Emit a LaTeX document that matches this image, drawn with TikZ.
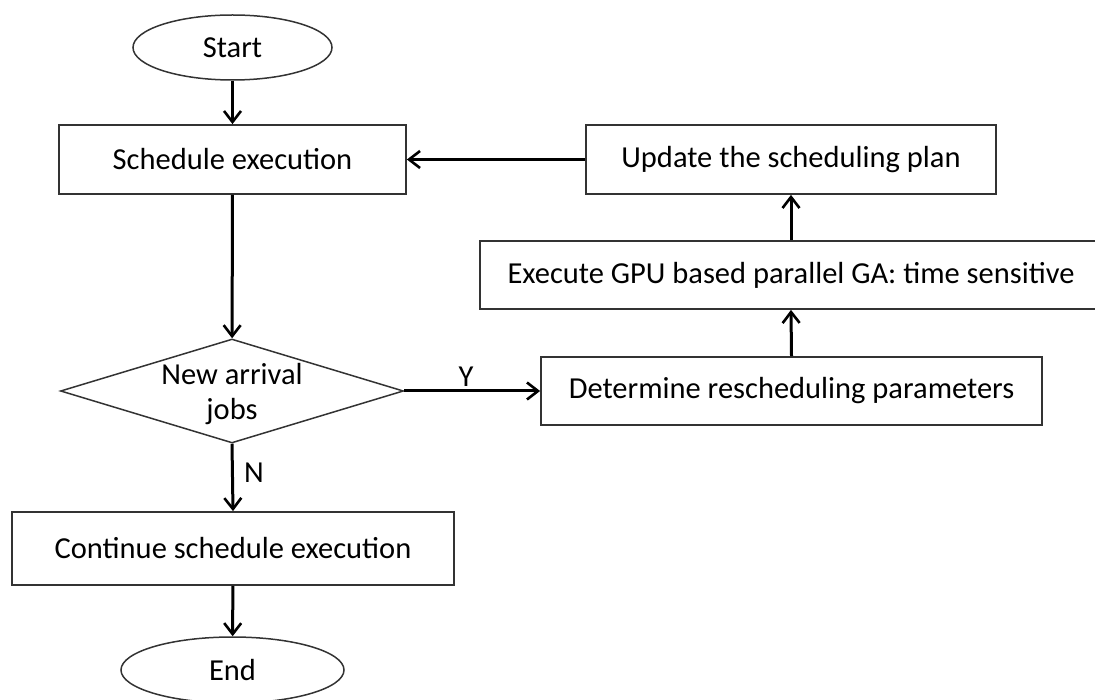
\documentclass[tikz,border=0pt]{standalone}
\usepackage{fontspec}
\setmainfont{Carlito}
\usetikzlibrary{shapes.geometric,arrows.meta}
\begin{document}
\begin{tikzpicture}[x=1pt,y=-1pt,
  every node/.style={font=\fontsize{30.5}{35}\selectfont},
  boxnode/.style={draw=black!80,line width=1.8pt,rectangle,inner sep=0pt},
  ovalnode/.style={draw=black!80,line width=1.5pt,ellipse,inner sep=0pt},
  flow/.style={draw=black,line width=3pt,-{Straight Barb[length=11pt,width=17pt,line width=2.6pt]}},
  lbl/.style={font=\fontsize{30.5}{35}\selectfont,inner sep=0pt}]
\useasboundingbox (0,0) rectangle (1095,700);
\node[ovalnode,minimum width=199pt,minimum height=65pt] (start) at (232.5,47.5) {Start};
\node[boxnode,minimum width=347pt,minimum height=69pt] (sched) at (232.5,159.5) {Schedule execution};
\node[boxnode,minimum width=410pt,minimum height=69pt] (update) at (791,159.5) {Update the scheduling plan};
\node[boxnode,minimum width=622pt,minimum height=68pt] (exec) at (791,275) {Execute GPU based parallel GA: time sensitive};
\node[boxnode,minimum width=501pt,minimum height=68pt] (determ) at (791.5,391) {Determine rescheduling parameters};
\node[draw=black!80,line width=1.5pt,diamond,inner sep=0pt,minimum width=343pt,minimum height=104pt] (dec) at (232,391) {};
\node[lbl,align=center] (dectext) at (232,394) {New arrival\\jobs};
\node[boxnode,minimum width=442pt,minimum height=73pt] (cont) at (233,548.5) {Continue schedule execution};
\node[ovalnode,minimum width=223pt,minimum height=66pt] (end) at (232.5,670) {End};
\node[lbl] (ylbl) at (466,377) {Y};
\node[lbl] (nlbl) at (254,473) {N};
\draw[flow] (start) -- (sched);
\draw[flow] (sched) -- (dec);
\draw[flow] (dec.east) -- (determ.west);
\draw[flow] (determ.north) -- (exec.south);
\draw[flow] (exec.north) -- (update.south);
\draw[flow] (update.west) -- (sched.east);
\draw[flow] (dec.south) -- (cont.north);
\draw[flow] (cont) -- (end);
\end{tikzpicture}
\end{document}
